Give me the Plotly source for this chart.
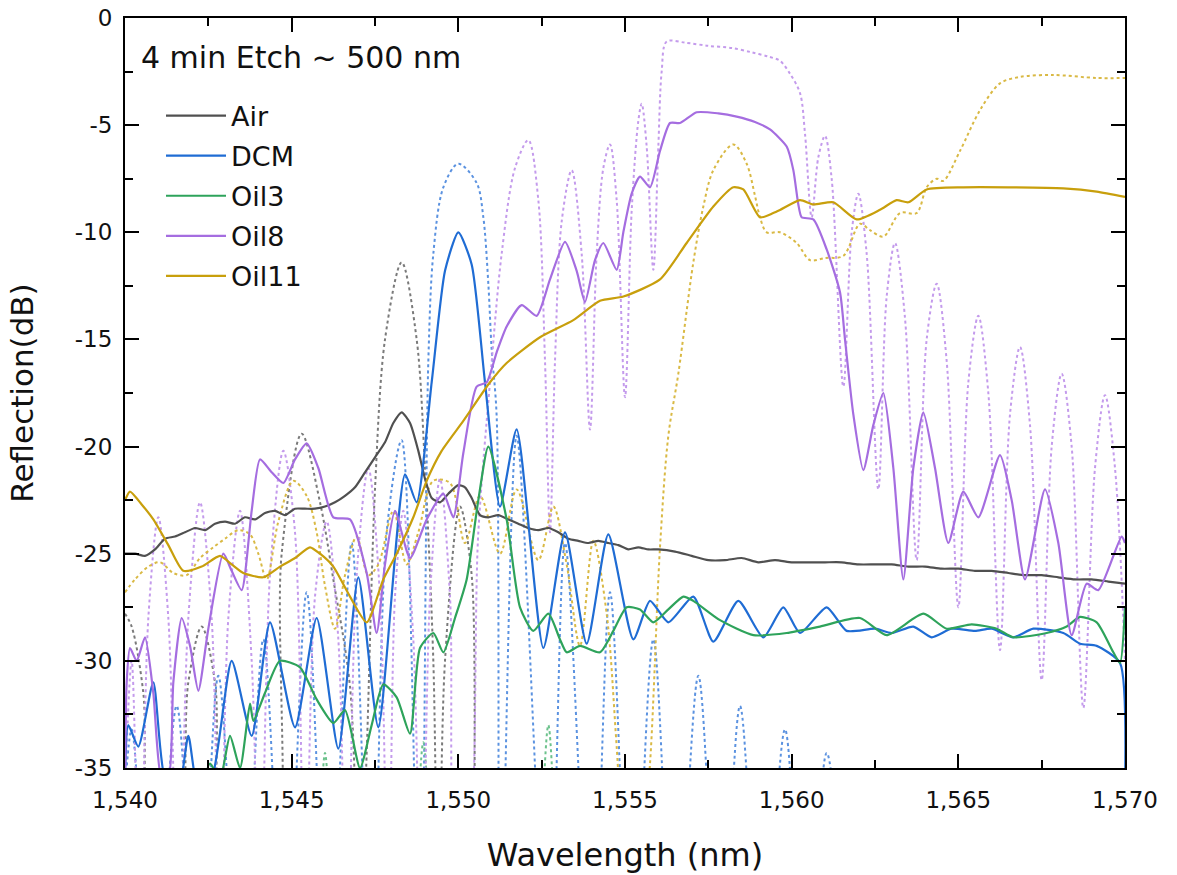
import plotly.graph_objects as go

# ---------------- data ----------------
air_wl = [1540.0,1540.3,1540.6,1540.9,1541.2,1541.5,1541.8,1542.1,1542.4,1542.7,1543.0,1543.3,1543.6,1543.9,1544.2,1544.5,1544.8,1545.1,1545.4,1545.7,1546.0,1546.3,1546.6,1546.9,1547.2,1547.5,1547.8,1548.05,1548.3,1548.55,1548.8,1549.0,1549.2,1549.45,1549.7,1550.0,1550.2,1550.4,1550.65,1550.9,1551.2,1551.5,1551.8,1552.1,1552.4,1552.7,1553.0,1553.3,1553.6,1553.9,1554.2,1554.5,1554.8,1555.1,1555.4,1555.7,1556.0,1556.5,1557.0,1557.5,1558.0,1558.5,1559.0,1559.5,1560.0,1560.5,1561.0,1561.5,1562.0,1562.5,1563.0,1563.5,1564.0,1564.5,1565.0,1565.5,1566.0,1566.5,1567.0,1567.5,1568.0,1568.5,1569.0,1569.5,1570.0]
air_db = [-25.0,-25.0,-25.1,-24.8,-24.3,-24.2,-24.0,-23.8,-23.9,-23.6,-23.5,-23.6,-23.3,-23.4,-23.1,-23.0,-23.2,-22.9,-22.9,-22.9,-22.8,-22.6,-22.3,-21.9,-21.2,-20.5,-19.8,-18.9,-18.4,-18.9,-20.2,-21.5,-22.4,-22.6,-22.2,-21.8,-21.9,-22.4,-23.2,-23.3,-23.2,-23.4,-23.6,-23.8,-23.9,-23.8,-24.0,-24.3,-24.4,-24.5,-24.4,-24.5,-24.6,-24.8,-24.7,-24.8,-24.8,-24.9,-25.1,-25.3,-25.3,-25.2,-25.4,-25.3,-25.4,-25.4,-25.4,-25.4,-25.5,-25.5,-25.5,-25.6,-25.6,-25.7,-25.7,-25.8,-25.8,-25.9,-26.0,-26.0,-26.1,-26.2,-26.2,-26.3,-26.4]

air_sim_wl = [1540.0,1540.2,1540.55,1540.85,1541.5,1541.9,1542.3,1542.7,1543.1,1544.3,1544.7,1545.3,1545.85,1546.25,1546.75,1547.05,1547.25,1547.5,1547.8,1548.3,1548.75,1549.0,1549.25,1549.4,1549.6,1550.05,1550.4,1550.6,1551.0]
air_sim_db = [-27.8,-28.4,-31.5,-40,-40,-31,-28.4,-31,-42,-42,-25,-19.4,-22.6,-26.2,-31.2,-42,-34.3,-22,-15,-11.4,-15,-21,-30,-42,-30,-22.8,-26,-42,-45]

dcm_wl = [1540.0,1540.1,1540.4,1540.85,1541.2,1541.6,1541.9,1542.2,1542.6,1543.2,1543.8,1544.35,1545.1,1545.75,1546.4,1547.0,1547.6,1548.4,1548.75,1549.2,1549.6,1550.0,1550.4,1550.8,1551.25,1551.75,1552.55,1553.2,1553.85,1554.5,1555.25,1555.75,1556.3,1557.05,1557.65,1558.4,1559.15,1559.75,1560.25,1561.05,1561.65,1562.5,1563.0,1563.65,1564.2,1564.8,1565.5,1566.0,1566.65,1567.25,1568.15,1568.65,1569.15,1569.85,1570.0]
dcm_db = [-35.5,-33.0,-34.0,-31.0,-35.5,-36.0,-33.5,-36.0,-35.5,-30.0,-33.5,-28.2,-33.1,-28.0,-34.1,-26.1,-33.1,-21.3,-22.6,-17.0,-11.8,-10.0,-11.5,-17.0,-22.8,-19.2,-29.4,-24.0,-29.2,-24.1,-29.0,-27.2,-28.2,-27.0,-29.1,-27.2,-28.9,-27.5,-28.7,-27.5,-28.6,-28.5,-28.7,-28.4,-28.9,-28.5,-28.6,-28.5,-28.9,-28.5,-28.7,-29.2,-29.3,-30.1,-36.0]

dcm_sim_wl = [1540.0,1540.2,1540.85,1541.55,1542.2,1542.8,1543.5,1544.15,1544.8,1545.45,1546.1,1546.8,1547.4,1547.85,1548.3,1548.85,1549.1,1549.25,1549.55,1550.0,1550.55,1550.75,1550.9,1551.0,1551.15,1551.25,1551.75,1552.7,1553.2,1554.0,1554.55,1555.2,1555.85,1556.5,1557.2,1557.85,1558.45,1559.1,1559.8,1560.4,1561.05,1561.7]
dcm_sim_db = [-36,-33.2,-45,-32.1,-45,-30.7,-45,-29.0,-45,-26.8,-45,-24.5,-45,-24.0,-19.7,-45,-16,-11,-7.9,-6.8,-7.7,-9.3,-12.4,-15.5,-18.6,-45,-19.5,-45,-24.5,-45,-26.8,-45,-29.0,-45,-30.7,-45,-32.1,-45,-33.2,-45,-34.3,-45]

oil3_wl = [1542.3,1542.55,1542.85,1543.15,1543.45,1543.75,1543.85,1544.2,1544.65,1545.25,1545.75,1546.25,1546.6,1547.05,1547.4,1547.75,1548.15,1548.55,1548.85,1549.25,1549.55,1549.9,1550.25,1550.6,1550.9,1551.45,1551.85,1552.25,1552.7,1553.05,1553.25,1553.65,1554.25,1554.65,1555.05,1555.45,1555.85,1556.3,1556.75,1557.05,1557.85,1558.85,1559.85,1560.85,1562.05,1562.85,1563.95,1564.65,1565.4,1566.15,1566.65,1567.65,1568.25,1568.65,1569.15,1569.65,1569.85,1570.0]
oil3_db = [-36.0,-34.8,-35.5,-33.5,-35.0,-32.0,-32.8,-31.5,-30.0,-30.3,-31.8,-32.9,-32.3,-35.0,-33.0,-31.1,-31.7,-33.4,-29.4,-28.7,-29.6,-28.0,-26.2,-22.5,-20.0,-23.4,-27.5,-28.6,-27.8,-29.0,-29.6,-29.3,-29.6,-28.6,-27.5,-27.6,-28.2,-27.6,-27.0,-27.2,-28.1,-28.8,-28.7,-28.4,-28.0,-28.8,-27.8,-28.5,-28.3,-28.5,-28.9,-28.7,-28.4,-27.95,-28.2,-29.6,-30.1,-27.5]

oil3_sim_wl = [1545.7,1546.0,1546.3,None,1548.6,1548.95,1549.3,None,1552.35,1552.7,1553.05]
oil3_sim_db = [-45,-34.3,-45,None,-45,-33.8,-45,None,-45,-33.0,-45]

oil8_wl = [1540.0,1540.05,1540.15,1540.35,1540.6,1540.85,1541.1,1541.3,1541.45,1541.7,1541.95,1542.2,1542.5,1542.95,1543.2,1543.5,1543.8,1544.05,1544.4,1544.75,1545.1,1545.45,1545.8,1546.25,1546.75,1547.25,1547.55,1547.8,1548.1,1548.55,1549.05,1549.55,1549.85,1550.15,1550.55,1550.85,1551.15,1551.45,1551.9,1552.35,1552.75,1553.2,1553.55,1553.8,1554.1,1554.35,1554.75,1554.95,1555.2,1555.45,1555.75,1556.05,1556.35,1556.65,1557.15,1557.8,1558.35,1558.9,1559.35,1559.85,1560.05,1560.2,1560.3,1560.65,1561.05,1561.45,1561.6,1561.85,1562.15,1562.45,1562.75,1563.05,1563.35,1563.65,1563.95,1564.3,1564.7,1565.15,1565.6,1566.25,1566.6,1567.0,1567.6,1568.0,1568.4,1568.85,1569.2,1569.9,1570.0]
oil8_db = [-35.5,-31.0,-29.4,-30.0,-28.9,-31.5,-35.5,-35.5,-31.0,-28.0,-29.3,-31.4,-28.5,-25.0,-25.8,-26.7,-23.0,-20.6,-21.2,-21.7,-20.6,-19.85,-21.0,-23.3,-23.4,-25.9,-28.7,-25.5,-23.0,-25.2,-23.4,-22.2,-23.3,-20.3,-17.2,-17.0,-15.6,-14.4,-13.4,-13.9,-12.2,-10.45,-11.8,-13.25,-11.3,-10.5,-11.75,-10.0,-8.2,-7.4,-7.9,-6.2,-4.9,-4.9,-4.4,-4.45,-4.6,-4.85,-5.2,-6.0,-7.1,-8.7,-9.3,-9.4,-10.8,-12.8,-15.0,-18.5,-21.1,-19.0,-17.5,-21.0,-26.2,-21.0,-18.4,-21.0,-24.5,-22.1,-23.3,-20.4,-22.5,-26.2,-22.0,-24.5,-28.8,-26.4,-26.7,-24.2,-24.5]

oil8_sim_wl = [1540.0,1540.2,1540.45,1540.7,1541.0,1541.3,1541.6,1541.9,1542.25,1542.6,1542.85,1543.1,1543.45,1543.8,1544.05,1544.35,1544.75,1545.1,1545.4,1545.7,1546.05,1546.4,1546.65,1546.95,1547.3,1547.65,1547.9,1548.1,1548.35,1548.65,1548.9,1549.15,1549.45,1549.75,1550.0,1550.2,1550.6,1550.95,1551.3,1551.7,1552.1,1552.4,1552.6,1552.75,1552.9,1553.1,1553.4,1553.7,1553.95,1554.15,1554.35,1554.55,1554.75,1555.0,1555.2,1555.4,1555.5,1555.65,1555.85,1556.0,1556.1,1556.25,1556.8,1557.5,1558.2,1558.8,1559.3,1559.65,1559.95,1560.25,1560.4,1560.6,1560.8,1561.0,1561.2,1561.55,1561.8,1562.0,1562.25,1562.6,1562.85,1563.1,1563.4,1563.75,1564.05,1564.35,1564.65,1565.0,1565.3,1565.6,1565.9,1566.25,1566.55,1566.85,1567.15,1567.5,1567.8,1568.1,1568.4,1568.75,1569.1,1569.4,1569.7,1570.0]
oil8_sim_db = [-36,-30,-42,-28,-23.3,-28,-42,-28,-22.6,-28,-42,-28,-23.0,-30,-42,-26,-20.2,-24,-42,-27,-23.5,-29,-42,-26,-21.0,-27,-42,-27,-23.0,-29,-42,-27,-21.5,-27,-40,-40,-24,-17,-11,-7.0,-5.7,-8.5,-16,-24,-16,-9.5,-7.1,-11,-19.2,-11,-7.0,-5.9,-8.5,-17.7,-9,-4.8,-4.0,-6,-11.75,-6,-2.5,-1.1,-1.15,-1.3,-1.4,-1.6,-1.8,-2.0,-2.6,-3.5,-5.4,-9.3,-6.5,-5.5,-7.5,-17.2,-10,-8.2,-11,-22.0,-13,-10.5,-14,-25.3,-15,-12.4,-16,-27.5,-17,-13.9,-17.5,-29.5,-18.5,-15.35,-19,-30.9,-20,-16.6,-20,-32.2,-21,-17.6,-21,-30]

oil11_wl = [1540.0,1540.15,1540.5,1540.85,1541.3,1541.75,1542.3,1542.85,1543.2,1543.55,1544.15,1544.65,1545.1,1545.55,1545.85,1546.25,1546.75,1547.25,1547.75,1548.15,1548.65,1549.05,1549.5,1550.15,1550.95,1551.45,1552.45,1553.45,1554.25,1554.95,1556.05,1556.85,1557.65,1558.25,1558.55,1559.05,1559.45,1559.65,1560.25,1560.65,1561.25,1561.95,1562.65,1563.15,1563.5,1564.05,1565.15,1566.5,1568.15,1569.15,1570.0]
oil11_db = [-22.5,-22.1,-22.7,-23.4,-24.6,-25.8,-25.6,-25.1,-25.5,-25.9,-26.1,-25.6,-25.2,-24.7,-25.0,-25.6,-27.0,-28.2,-26.2,-25.0,-23.3,-21.6,-20.2,-18.8,-17.0,-16.1,-14.9,-14.1,-13.2,-13.0,-12.2,-10.5,-8.8,-7.9,-8.0,-9.3,-9.1,-8.96,-8.5,-8.7,-8.6,-9.4,-8.95,-8.5,-8.6,-8.0,-7.9,-7.9,-7.95,-8.1,-8.35]

oil11_sim_wl = [1540.0,1540.3,1540.7,1541.05,1541.45,1541.85,1542.25,1542.65,1543.0,1543.4,1543.75,1544.0,1544.25,1544.6,1545.05,1545.45,1545.75,1546.0,1546.3,1546.6,1546.95,1547.3,1547.6,1548.05,1548.45,1548.8,1549.25,1549.75,1550.2,1550.65,1551.25,1551.75,1552.4,1552.85,1553.25,1553.65,1554.05,1554.45,1554.75,1555.1,1555.45,1555.75,1556.05,1556.3,1556.6,1557.05,1557.35,1557.65,1558.25,1558.65,1558.9,1559.05,1559.25,1559.65,1560.15,1560.55,1561.0,1561.55,1562.05,1562.35,1562.75,1563.25,1563.75,1564.05,1564.35,1564.55,1565.05,1565.65,1566.25,1566.85,1567.85,1569.15,1570.0]
oil11_sim_db = [-26.8,-26.2,-25.6,-25.4,-25.9,-26.0,-25.2,-24.7,-24.3,-23.9,-24.1,-25.0,-26.2,-23.5,-21.6,-22.3,-24.0,-26.5,-28.5,-26.0,-24.2,-26.0,-25.5,-23.0,-25.5,-24.0,-21.6,-21.7,-24.5,-22.3,-25.0,-22.0,-25.3,-22.8,-25.5,-29.3,-24.4,-27.8,-34.0,-42,-40,-34.8,-24.7,-19.5,-16.6,-11.4,-8.8,-7.1,-5.9,-6.8,-8.3,-9.3,-10.0,-10.0,-10.5,-11.3,-11.2,-11.1,-9.6,-9.9,-10.2,-9.1,-9.1,-7.9,-7.5,-7.6,-6.2,-4.3,-3.05,-2.75,-2.66,-2.8,-2.8]

x_ticks = [1540, 1545, 1550, 1555, 1560, 1565, 1570]
x_ticktext = ["1,540", "1,545", "1,550", "1,555", "1,560", "1,565", "1,570"]
y_ticks = [0, -5, -10, -15, -20, -25, -30, -35]
y_ticktext = ["0", "-5", "-10", "-15", "-20", "-25", "-30", "-35"]

# ---------------- styling ----------------
FONT = "DejaVu Sans, Arial, sans-serif"
series = [
    ("Air",   air_wl,  air_db,  air_sim_wl,  air_sim_db,  "#505050", "#7a7a7a"),
    ("DCM",   dcm_wl,  dcm_db,  dcm_sim_wl,  dcm_sim_db,  "#1f6cd4", "#5b92e0"),
    ("Oil3",  oil3_wl, oil3_db, oil3_sim_wl, oil3_sim_db, "#2ea35b", "#6cc28c"),
    ("Oil8",  oil8_wl, oil8_db, oil8_sim_wl, oil8_sim_db, "#a56de0", "#c49bec"),
    ("Oil11", oil11_wl, oil11_db, oil11_sim_wl, oil11_sim_db, "#c89f0c", "#d9b944"),
]

fig = go.Figure()
for name, wl, db, swl, sdb, col, scol in series:
    fig.add_trace(go.Scatter(
        x=swl, y=sdb, mode="lines", name=name + " (sim)", showlegend=False,
        line=dict(color=scol, width=2, dash="dot", shape="spline", smoothing=0.9),
        connectgaps=False, hoverinfo="skip"))
for name, wl, db, swl, sdb, col, scol in series:
    fig.add_trace(go.Scatter(
        x=wl, y=db, mode="lines", name=name, legendgroup=name,
        line=dict(color=col, width=2.2, shape="spline", smoothing=0.6)))

fig.add_annotation(
    x=0.014, y=0.948, xref="paper", yref="paper", xanchor="left", yanchor="middle",
    text="4 min Etch ~ 500 nm", showarrow=False,
    font=dict(family=FONT, size=30, color="#111111"))

axis_common = dict(
    showline=True, linecolor="black", linewidth=2, mirror="allticks",
    ticks="inside", ticklen=14, tickwidth=2, tickcolor="black",
    showgrid=False, zeroline=False, automargin=False,
    ticklabeloverflow="allow",
    tickfont=dict(family=FONT, size=23, color="#111111"),
)

fig.update_xaxes(
    range=[1540, 1570], tickvals=x_ticks, ticktext=x_ticktext,
    ticklabelstandoff=10,
    title=dict(text="Wavelength (nm)", font=dict(family=FONT, size=32, color="#111111"), standoff=32),
    minor=dict(ticks="inside", ticklen=8, tickwidth=2, tickcolor="black", dtick=2.5, showgrid=False),
    **axis_common)
fig.update_yaxes(
    range=[-35, 0], tickvals=y_ticks, ticktext=y_ticktext,
    ticklabelstandoff=6,
    title=dict(text="Reflection(dB)", font=dict(family=FONT, size=31, color="#111111"), standoff=32),
    minor=dict(ticks="inside", ticklen=8, tickwidth=2, tickcolor="black", dtick=2.5, showgrid=False),
    **axis_common)

fig.update_layout(
    width=1177, height=875,
    margin=dict(l=125, r=52, t=18, b=107),
    paper_bgcolor="white", plot_bgcolor="white",
    font=dict(family=FONT, size=23, color="#111111"),
    showlegend=True,
    legend=dict(x=0.036, y=0.902, xanchor="left", yanchor="top",
                bgcolor="rgba(0,0,0,0)", borderwidth=0,
                font=dict(family=FONT, size=27, color="#111111"),
                tracegroupgap=2, itemwidth=60),
)

# remove the browser's default 8px page margin so the figure fills the window exactly
fig.write_html("out.html",
               config={"displayModeBar": False},
               post_script="document.body.style.margin='0px';document.body.style.overflow='hidden';")
